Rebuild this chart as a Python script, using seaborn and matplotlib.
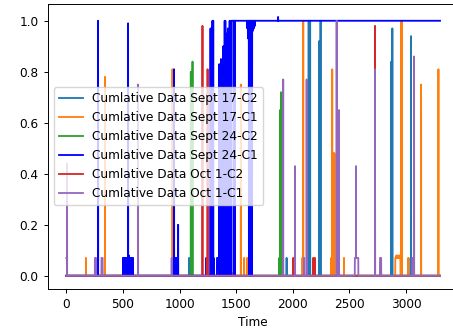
import numpy as np
import pandas as pd
import matplotlib
matplotlib.use("Agg")
import matplotlib.pyplot as plt
import seaborn as sns

# ---------------- data ----------------
t_end = 3300
series_names = [
    "Cumlative Data Sept 17-C2",
    "Cumlative Data Sept 17-C1",
    "Cumlative Data Sept 24-C2",
    "Cumlative Data Sept 24-C1",
    "Cumlative Data Oct 1-C2",
    "Cumlative Data Oct 1-C1",
]
series_colors = ["#1f77b4", "#ff7f0e", "#2ca02c", "blue", "#d62728", "#9467bd"]

# plateaus: (start, end, value)
sept17_c2_plateaus = []
sept17_c1_plateaus = [(2905, 2950, 0.07)]
sept24_c2_plateaus = []
sept24_c1_plateaus = [(1330, 1345, 0.07), (1460, 3300, 1.0)]
oct1_c2_plateaus = []
oct1_c1_plateaus = [(0, 4, 0.07), (252, 262, 0.07), (310, 320, 0.07),
                    (2548, 2578, 0.07), (2770, 2780, 0.07), (3055, 3065, 0.07)]

# spikes: (time, value)
sept17_c2_spikes = [(1084, 0.07), (1945, 0.07), (2140, 1.0), (2146, 0.85),
                    (2153, 1.0), (2231, 0.92), (2238, 0.07), (2245, 1.0),
                    (2870, 0.84), (2879, 0.97), (3040, 0.07), (3044, 0.94)]
sept17_c1_spikes = [(173, 0.07), (341, 0.78), (937, 0.81), (1465, 0.01),
                    (1475, 0.01), (1541, 0.75), (1570, 0.07), (1597, 0.07),
                    (2085, 0.07), (2092, 1.0), (2340, 0.07), (2348, 0.81),
                    (2358, 0.48), (2363, 0.48), (2368, 0.48), (2452, 0.07),
                    (2915, 0.08), (2930, 0.08), (2945, 0.08), (2956, 1.0),
                    (2962, 1.0), (3020, 0.07), (3133, 0.75), (3286, 0.81)]
sept24_c2_spikes = [(580, 0.07), (1099, 0.80), (1114, 0.84), (1880, 0.07),
                    (1887, 0.65), (1895, 0.72)]
sept24_c1_spikes = [(280, 1.0),
                    (500, 0.07), (506, 0.07), (512, 0.07), (518, 0.07),
                    (524, 0.07), (530, 0.07), (536, 0.07), (540, 0.07),
                    (545, 0.99), (552, 0.08), (558, 0.07), (564, 0.07),
                    (570, 0.07), (576, 0.07), (582, 0.07), (588, 0.07),
                    (951, 0.81), (958, 0.07), (965, 0.07), (972, 0.07),
                    (987, 0.2), (1235, 0.07), (1273, 0.97),
                    (1290, 1.0), (1297, 1.0), (1300, 0.07),
                    (1350, 0.83), (1358, 0.07), (1365, 0.85), (1372, 0.07),
                    (1379, 0.83), (1386, 0.9), (1392, 0.07), (1398, 1.0),
                    (1404, 1.0), (1410, 0.95), (1415, 0.07), (1420, 0.9),
                    (1426, 0.97), (1432, 0.85), (1437, 0.07), (1442, 1.0),
                    (1448, 1.0), (1454, 0.93), (1480, 0.0), (1488, 0.0),
                    (1598, 0.97), (1606, 0.93), (1612, 0.0), (1618, 0.0),
                    (1625, 0.0), (1632, 0.0), (1640, 0.0), (1646, 0.96),
                    (1655, 0.97), (1665, 0.98), (1870, 1.015)]
oct1_c2_spikes = [(1202, 0.98), (1240, 0.07), (1247, 0.81), (2004, 0.07),
                  (2180, 0.07), (2195, 0.07), (2726, 0.98)]
oct1_c1_spikes = [(6, 0.44), (633, 0.75), (930, 0.07), (1915, 0.77),
                  (2019, 0.43), (2100, 0.07), (2122, 0.77), (2387, 1.0),
                  (2395, 0.07), (2408, 0.65), (2558, 0.43), (2726, 0.81),
                  (3071, 0.86)]

all_plateaus = [sept17_c2_plateaus, sept17_c1_plateaus, sept24_c2_plateaus,
                sept24_c1_plateaus, oct1_c2_plateaus, oct1_c1_plateaus]
all_spikes = [sept17_c2_spikes, sept17_c1_spikes, sept24_c2_spikes,
              sept24_c1_spikes, oct1_c2_spikes, oct1_c1_spikes]

# ---------------- build the long table ----------------
time = np.arange(0, t_end + 1)
frames = []
for name, plats, spikes in zip(series_names, all_plateaus, all_spikes):
    y = np.zeros(len(time))
    for a, b, v in plats:
        y[a:b + 1] = v
    for t, v in spikes:
        y[t] = v
    frames.append(pd.DataFrame({"Time": time, "value": y, "series": name}))
df = pd.concat(frames, ignore_index=True)

# ---------------- plot ----------------
scale = 0.87
plt.rcParams.update({
    "font.size": 10 * scale,
    "axes.linewidth": 0.8 * scale,
    "xtick.major.size": 3.5 * scale,
    "ytick.major.size": 3.5 * scale,
    "xtick.major.width": 0.8 * scale,
    "ytick.major.width": 0.8 * scale,
    "legend.fontsize": 10 * scale,
})
plt.rcParams["font.family"] = ["DejaVu Sans"]

fig = plt.figure(figsize=(4.53, 3.32), dpi=100)
ax = fig.add_axes([47.7 / 453, 43.3 / 332, 411.0 / 453, 284.7 / 332])
sns.lineplot(data=df, x="Time", y="value", hue="series",
             hue_order=series_names,
             palette=dict(zip(series_names, series_colors)),
             estimator=None, sort=False, linewidth=1.5 * scale, ax=ax)
ax.set_ylabel("")
ax.set_xlabel("Time")
ax.set_xticks([0, 500, 1000, 1500, 2000, 2500, 3000])
ax.set_yticks([0.0, 0.2, 0.4, 0.6, 0.8, 1.0])
sns.move_legend(ax, "center left", title=None)
fig.savefig("out.png", dpi=100)
